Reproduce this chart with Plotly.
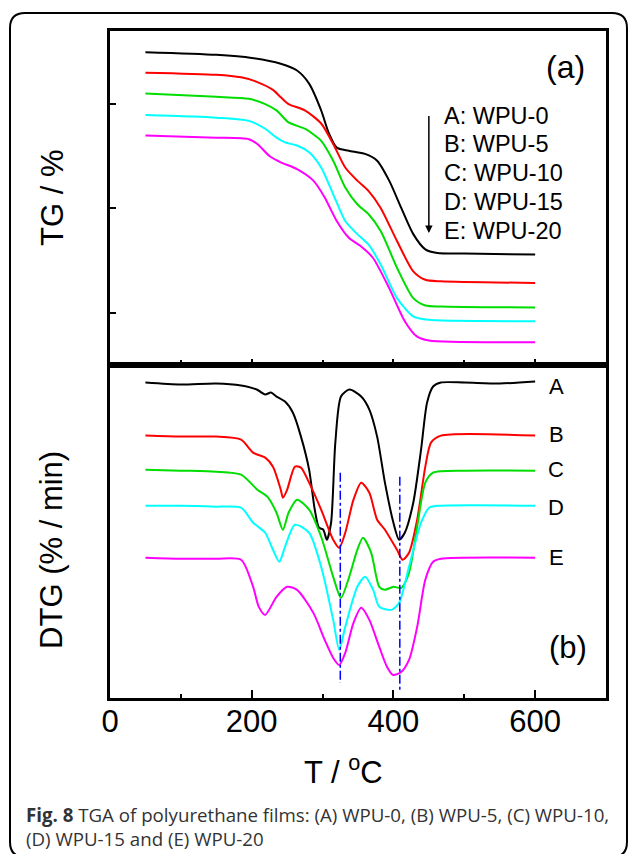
import plotly.graph_objects as go

# ---------------- data ----------------
series_names = ["A", "B", "C", "D", "E"]
legend_labels = ["A: WPU-0", "B: WPU-5", "C: WPU-10", "D: WPU-15", "E: WPU-20"]
colors = ["#000000", "#ff0000", "#00dd00", "#00ffff", "#ff00ff"]

# TG curves (panel a), temperature in °C and TG (%, offset stacked)
tg_T_A = [50, 150, 200, 241, 264, 281, 298, 309, 320, 337, 360, 377, 394, 411, 428, 445, 462, 500, 600]
tg_A = [69.8, 69.3, 68.7, 67.6, 66.3, 63.8, 58.7, 54.3, 51.6, 51.0, 50.4, 49.1, 45.3, 40.1, 35.1, 32.2, 31.5, 31.4, 31.2]

tg_T_B = [50, 150, 185, 208, 230, 241, 252, 275, 298, 315, 332, 349, 365, 382, 405, 428, 445, 467, 600]
tg_B = [65.9, 65.5, 65.0, 64.1, 62.6, 61.2, 59.9, 58.7, 56.2, 52.3, 47.8, 45.3, 43.3, 40.1, 33.8, 28.0, 26.4, 26.1, 25.8]

tg_T_C = [50, 150, 196, 219, 235, 252, 275, 298, 315, 332, 349, 365, 382, 405, 428, 445, 467, 600]
tg_C = [61.9, 61.3, 60.9, 59.9, 58.7, 56.4, 55.2, 52.9, 49.1, 44.0, 40.8, 38.9, 35.7, 28.7, 22.9, 21.5, 21.3, 21.1]

tg_T_D = [50, 150, 196, 219, 235, 247, 264, 281, 298, 315, 332, 349, 365, 382, 405, 428, 445, 600]
tg_D = [57.8, 57.3, 56.7, 55.2, 53.5, 52.6, 52.0, 50.7, 47.8, 42.7, 37.6, 35.1, 33.1, 29.3, 22.9, 19.4, 18.8, 18.5]

tg_T_E = [50, 150, 196, 208, 225, 241, 264, 287, 303, 320, 337, 354, 371, 394, 416, 433, 450, 600]
tg_E = [53.9, 53.5, 53.2, 52.3, 50.0, 48.8, 47.5, 45.3, 42.1, 37.6, 34.4, 32.8, 30.6, 24.8, 18.5, 15.6, 14.8, 14.5]

# DTG curves (panel b), arbitrary offset units
dtg_T_A = [50, 100, 150, 185, 207, 219, 227, 235, 247, 258, 269.5, 281, 289, 295, 301, 306, 312, 318, 326, 338,
           354.5, 366, 377, 388, 400, 408, 416, 428, 439, 447.5, 456, 467, 500, 550, 600]
dtg_A = [31.5, 31.3, 31.4, 31.2, 30.8, 30.3, 30.5, 30.1, 29.6, 28.5, 26.1, 22.8, 18.8, 17.0, 16.8, 15.8, 17.5, 25.5,
         30.1, 30.8, 30.1, 28.8, 26.1, 21.5, 17.5, 15.8, 16.5, 19.5, 24.8, 29.5, 31.1, 31.5, 31.5, 31.4, 31.6]

dtg_T_B = [50, 100, 150, 185, 202, 219, 230, 241, 244, 250, 261, 269.5, 281, 298, 315, 323.5, 332, 343.6, 354.5,
           366, 377, 388, 405, 413, 422, 433.5, 445, 453, 467, 600]
dtg_B = [26.2, 26.1, 26.1, 25.8, 24.5, 24.0, 23.1, 20.8, 20.0, 20.8, 23.1, 23.0, 21.5, 18.8, 15.8, 15.0, 16.5, 19.8,
         21.5, 20.5, 17.8, 16.8, 14.8, 13.8, 14.5, 17.8, 23.1, 25.5, 26.2, 26.2]

dtg_T_C = [50, 100, 150, 185, 208, 222, 235, 244, 252, 264, 281, 298, 315, 326, 337.6, 349, 357, 368.6, 380, 388,
           400, 411, 422, 433.5, 445, 456, 500, 600]
dtg_C = [22.8, 22.7, 22.6, 22.3, 20.8, 20.1, 18.5, 16.8, 18.5, 19.8, 18.8, 16.1, 12.1, 10.0, 12.1, 14.8, 16.0, 14.5,
         11.1, 10.8, 11.1, 11.0, 12.5, 17.1, 21.5, 22.5, 22.7, 22.7]

dtg_T_D = [50, 100, 150, 185, 202, 219, 230, 239, 247, 261, 281, 298, 315, 323.5, 332, 349, 360, 371.4, 380, 397,
           408, 422, 439, 450.5, 467, 600]
dtg_D = [19.2, 19.2, 19.1, 19.0, 17.5, 16.5, 14.8, 13.6, 15.1, 17.3, 16.5, 13.1, 7.8, 4.8, 7.1, 11.1, 12.1, 10.8,
         9.1, 8.8, 9.5, 13.1, 17.5, 19.0, 19.2, 19.2]

dtg_T_E = [50, 100, 150, 185, 202, 210, 219, 235, 250, 264, 287, 303, 315, 323.5, 332, 343.6, 354.5, 366, 380, 391,
           399.6, 411, 422, 433.5, 445, 456, 467, 600]
dtg_E = [14.0, 13.9, 13.9, 13.8, 11.1, 9.1, 8.3, 10.1, 11.1, 10.8, 8.5, 5.8, 4.0, 3.3, 4.5, 7.5, 9.0, 7.8, 5.1, 3.1,
         2.3, 2.6, 3.8, 7.1, 11.8, 13.6, 13.9, 14.0]

# dash-dot reference lines at the main DTG peak temperatures
peak_T = [325, 409]
peak_top = [22.5, 22.1]
peak_bottom = [1.5, 0.8]

x_ticks = [0, 200, 400, 600]
tg_ticks = [20, 40, 60]

caption_bold = "Fig. 8"
caption_text = (" TGA of polyurethane films: (A) WPU-0, (B) WPU-5, (C) WPU-10,<br>"
                "(D) WPU-15 and (E) WPU-20")

tg_T = [tg_T_A, tg_T_B, tg_T_C, tg_T_D, tg_T_E]
tg_V = [tg_A, tg_B, tg_C, tg_D, tg_E]
dtg_T = [dtg_T_A, dtg_T_B, dtg_T_C, dtg_T_D, dtg_T_E]
dtg_V = [dtg_A, dtg_B, dtg_C, dtg_D, dtg_E]

# ---------------- figure ----------------
FONT = "Liberation Sans, Arial, sans-serif"
fig = go.Figure()

for i in range(5):
    fig.add_trace(go.Scatter(x=tg_T[i], y=tg_V[i], mode="lines", xaxis="x2", yaxis="y2",
                             line=dict(color=colors[i], width=2, shape="spline", smoothing=0.7),
                             showlegend=False))
for i in range(5):
    fig.add_trace(go.Scatter(x=dtg_T[i], y=dtg_V[i], mode="lines", xaxis="x", yaxis="y",
                             line=dict(color=colors[i], width=2, shape="spline", smoothing=0.7),
                             showlegend=False))
for t, top, bot in zip(peak_T, peak_top, peak_bottom):
    fig.add_trace(go.Scatter(x=[t, t], y=[top, bot], mode="lines", xaxis="x", yaxis="y",
                             line=dict(color="#0000ff", width=1.5, dash="dashdot"), showlegend=False))

axis_common = dict(showline=True, linecolor="black", linewidth=2.5, mirror=True,
                   showgrid=False, zeroline=False)

fig.update_layout(
    width=629, height=854,
    margin=dict(l=110, r=23, t=31, b=156),
    paper_bgcolor="white", plot_bgcolor="white",
    font=dict(family=FONT, color="black"),
    xaxis=dict(domain=[0, 1], range=[0, 700], anchor="y", tickvals=x_ticks, ticks="inside",
               ticklen=8, tickwidth=2, tickcolor="black", ticklabelstandoff=-6,
               minor=dict(ticks="inside", ticklen=4, tickwidth=2, tickcolor="black", dtick=100, tick0=0),
               tickfont=dict(size=31, family=FONT), **axis_common),
    yaxis=dict(domain=[0, 0.5], range=[0, 33.3], anchor="x", showticklabels=False, ticks="", **axis_common),
    xaxis2=dict(domain=[0, 1], range=[0, 700], anchor="y2", matches="x", tickvals=x_ticks, ticks="inside",
                ticklen=6, tickwidth=2, tickcolor="black",
                minor=dict(ticks="inside", ticklen=5, tickwidth=2, tickcolor="black", dtick=100, tick0=0),
                showticklabels=False, **axis_common),
    yaxis2=dict(domain=[0.5, 1], range=[10.24, 73.84], anchor="x2", tickvals=tg_ticks, ticks="inside",
                ticklen=6, tickwidth=2, tickcolor="black", showticklabels=False, **axis_common),
)

ann = []
# panel labels
ann.append(dict(x=643, y=66.9, xref="x2", yref="y2", text="(a)", showarrow=False,
                xanchor="center", yanchor="middle", font=dict(size=32, family=FONT)))
ann.append(dict(x=647, y=5.0, xref="x", yref="y", text="(b)", showarrow=False,
                xanchor="center", yanchor="middle", font=dict(size=31, family=FONT)))
# legend entries in panel a
legend_y = [57.7, 52.2, 46.7, 41.2, 35.7]
for lab, yv in zip(legend_labels, legend_y):
    ann.append(dict(x=469, y=yv, xref="x2", yref="y2", text=lab, showarrow=False, xanchor="left",
                    yanchor="middle", font=dict(size=23.5, family=FONT)))
# arrow
ann.append(dict(x=450, y=35.3, xref="x2", yref="y2", ax=450, ay=57.9, axref="x2", ayref="y2",
                text="", showarrow=True, arrowhead=2, arrowsize=1, arrowwidth=1.5, arrowcolor="black"))
# curve labels in panel b
dtg_label_y = [31.1, 26.3, 22.8, 19.0, 14.0]
for lab, yv in zip(series_names, dtg_label_y):
    ann.append(dict(x=630, y=yv, xref="x", yref="y", text=lab, showarrow=False,
                    xanchor="center", yanchor="middle", font=dict(size=22, family=FONT)))
# axis titles
ann.append(dict(x=-0.117, y=0.7496, xref="paper", yref="paper", text="TG / %", textangle=-90,
                xanchor="center", yanchor="middle", showarrow=False, font=dict(size=31, family=FONT)))
ann.append(dict(x=-0.117, y=0.222, xref="paper", yref="paper", text="DTG (% / min)", textangle=-90,
                xanchor="center", yanchor="middle", showarrow=False, font=dict(size=31, family=FONT)))
ann.append(dict(x=0.4698, y=-0.108, xref="paper", yref="paper", text="T / <sup>o</sup>C",
                xanchor="center", yanchor="middle", showarrow=False, font=dict(size=31, family=FONT)))
# caption
ann.append(dict(x=-0.173, y=-0.153, xref="paper", yref="paper", xanchor="left", yanchor="top", align="left",
                text="<b>" + caption_bold + "</b>" + caption_text, showarrow=False,
                font=dict(size=18.7, family="Open Sans, sans-serif", color="#333333")))
fig.update_layout(annotations=ann)

# rounded outer frame
L, R, T, B = -0.2016, 1.0423, 1.027, -0.2384
rx, ry = 0.0302, 0.0225
path = (f"M {L+rx},{T} L {R-rx},{T} Q {R},{T} {R},{T-ry} L {R},{B+ry} Q {R},{B} {R-rx},{B} "
        f"L {L+rx},{B} Q {L},{B} {L},{B+ry} L {L},{T-ry} Q {L},{T} {L+rx},{T} Z")
fig.add_shape(type="path", path=path, xref="paper", yref="paper", line=dict(color="black", width=2))

fig.write_html("out.html", config={"displayModeBar": False},
               post_script="document.body.style.margin='0px';")
